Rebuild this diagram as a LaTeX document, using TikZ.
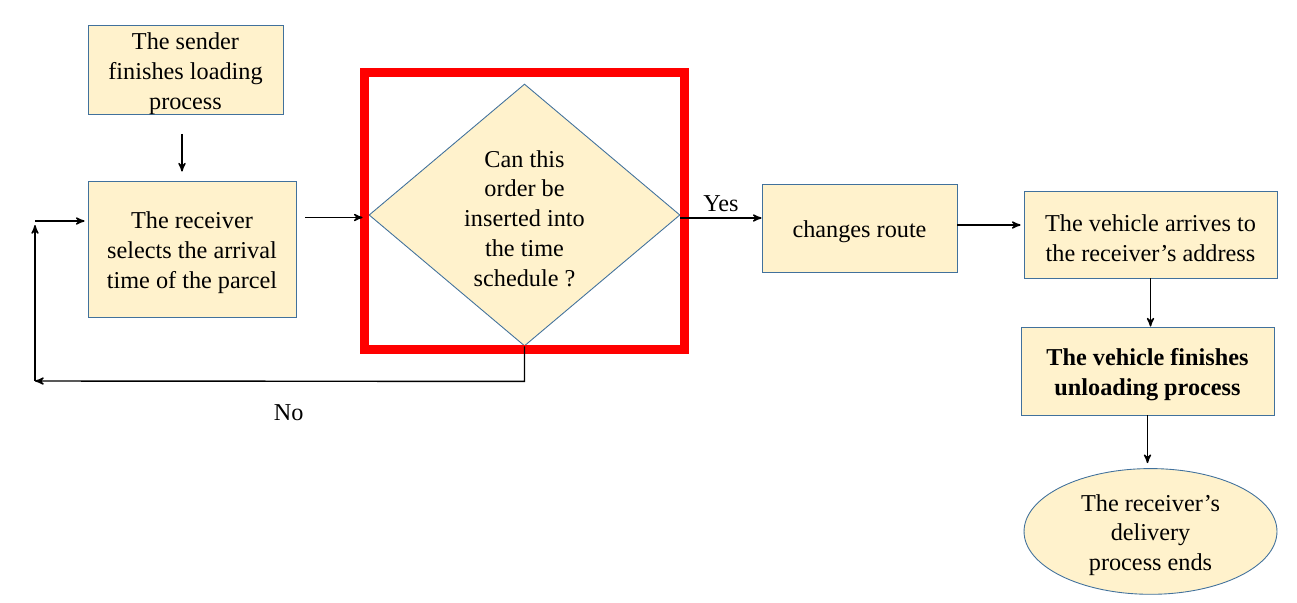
\documentclass[tikz,border=0pt]{standalone}
\usepackage{fontspec}
\setmainfont{Liberation Serif}
\usetikzlibrary{arrows,positioning,shapes}
\definecolor{boxfill}{RGB}{255,242,204}
\definecolor{boxline}{RGB}{65,113,156}
\newcommand{\boxfont}{\fontsize{13.8}{17}\selectfont}
\newcommand{\firstline}{\rule{0pt}{0.48cm}}

\begin{document}
\begin{tikzpicture}[->,>=stealth',x=0.02cm,y=-0.02cm,line width=0.8pt,font=\boxfont]
\tikzstyle{block}=[draw=boxline,fill=boxfill,line width=0.5pt,shape=rectangle,text=black,align=center,inner sep=0pt]
\tikzstyle{decision}=[block,shape=diamond,aspect=1.19]
\tikzstyle{terminal}=[block,shape=ellipse]

\useasboundingbox (0,0) rectangle (1297,602);

\node[block]        (A) at (185.5,70) [minimum width=3.9cm,minimum height=1.76cm] {\firstline The sender\\finishes loading\\process};
\node[block]        (B) [below of=A,node distance=3.58cm,xshift=0.13cm,minimum width=4.16cm,minimum height=2.72cm] {\firstline The receiver\\selects the arrival\\time of the parcel};
\node[decision]     (C) at (524.5,215) [minimum width=6.22cm,minimum height=5.24cm] {\firstline Can this\\order be\\inserted into\\the time\\schedule ?};
\node[block]        (D) at (859.5,228) [minimum width=3.9cm,minimum height=1.76cm] {\firstline changes route};
\node[block]        (E) at (1150.5,234.5) [minimum width=5.06cm,minimum height=1.74cm] {\firstline The vehicle arrives to\\the receiver’s address};
\node[block]        (F) [below of=E,node distance=2.73cm,xshift=-0.06cm,minimum width=5.06cm,minimum height=1.76cm,font=\boxfont\bfseries] {\firstline The vehicle finishes\\unloading process};
\node[terminal]     (G) [below of=F,node distance=3.21cm,xshift=0.06cm,minimum width=5.06cm,minimum height=2.46cm] {\firstline The receiver’s\\delivery\\process ends};
\coordinate         (H) at (35,381);
\coordinate         (I) at (35,221);

% highlight round the decision
\draw[-,red,line width=0.18cm] (364.5,72.5) rectangle (684,349.5);

\path
([xshift=-0.07cm]A.south) edge[shorten <=0.38cm,shorten >=0.18cm] ([xshift=-0.07cm]A.south |- B.north)
([yshift=-0.05cm]C.west -| B.east) edge[shorten <=0.18cm,shorten >=0.12cm] ([yshift=-0.05cm]C.west)
([yshift=-0.06cm]C.east) edge node[above] (yes) {Yes} ([yshift=-0.06cm]C.east -| D.west)
([yshift=0.06cm]D.east) edge[shorten >=0.06cm] ([yshift=0.06cm]D.east -| E.west)
(E.south) edge (E.south |- F.north)
(F.south) edge[shorten >=0.1cm] (F.south |- G.north)
;

% back to the receiver
\draw (C.south) -- ++(0,35) -- node[below=0.34cm,xshift=0.18cm] (no) {No} (H);
\draw (H) -- ([yshift=-0.08cm]I);
\draw[shorten >=0.06cm] (I) -- (I -| B.west);
\end{tikzpicture}
\end{document}
